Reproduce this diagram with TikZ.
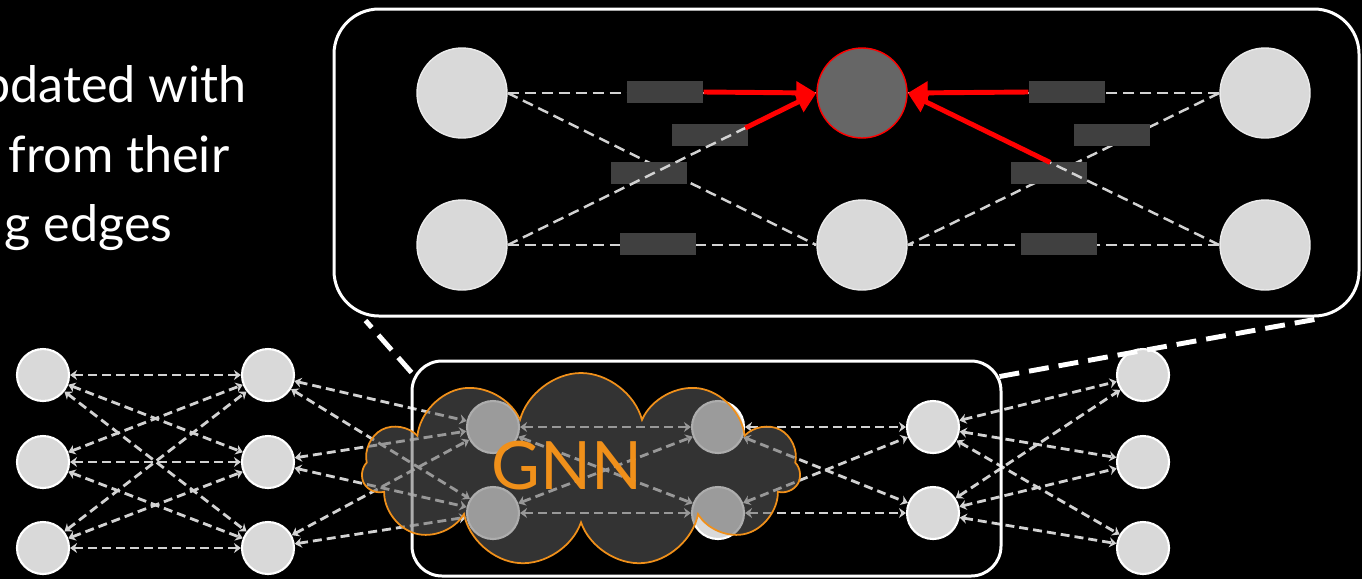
\documentclass[tikz,border=0pt]{standalone}
\usepackage{fontspec}
\setmainfont{Lato}
\usetikzlibrary{arrows.meta,shapes.symbols,calc}

\definecolor{nodegray}{HTML}{D9D9D9}
\definecolor{msggray}{HTML}{404040}
\definecolor{hubgray}{HTML}{666666}
\definecolor{cloudfill}{HTML}{636363}
\definecolor{gnnorange}{HTML}{F0901A}
\definecolor{edgegray}{HTML}{D2D2D2}

\begin{document}
\begin{tikzpicture}[
  x=0.1mm, y=-0.1mm,
  topnode/.style={circle, fill=nodegray, draw=white!92!black, line width=0.4pt,
                  minimum size=9mm, inner sep=0pt},
  hubnode/.style={topnode, fill=hubgray, draw=red},
  netnode/.style={circle, fill=nodegray, draw=white, line width=0.6pt,
                  minimum size=5.2mm, inner sep=0pt},
  msgbox/.style={rectangle, fill=msggray, minimum width=7.6mm,
                 minimum height=2.2mm, inner sep=0pt},
  topedge/.style={draw=edgegray, dash pattern=on 1.1mm off 0.6mm, line width=0.7pt},
  netedge/.style={draw=edgegray, dash pattern=on 0.9mm off 0.5mm, line width=0.8pt,
                  {Stealth[length=0.7mm,width=1mm]}-{Stealth[length=0.7mm,width=1mm]}},
  redmsg/.style={draw=red, line width=1.4pt, -{Triangle[length=2mm,width=2.2mm]}},
  zoomedge/.style={draw=white, line width=1.4pt, dash pattern=on 2mm off 1mm},
  panel/.style={rectangle, draw=white, line width=0.85pt, inner sep=0pt},
  txt/.style={text=white, font=\fontsize{14.3}{20}\selectfont, anchor=base east,
              inner sep=0pt},
]
\useasboundingbox (0,0) rectangle (1362,579);
\fill[black] (0,0) rectangle (1362,579);

% ---- left text, cut by the page edge ----
\node[txt] (t1) at (247,102) {pdated with};
\node[txt] (t2) at (230,172) {from their};
\node[txt] (t3) at (173,241) {g edges};

% ---- zoomed panel ----
\node[panel, minimum width=102.5mm, minimum height=30.7mm, rounded corners=4.5mm]
  (tbox) at (846.5,162.5) {};

\node[topnode] (l1) at (462,93) {};
\node[topnode] (l2) at (462,245) {};
\node[hubnode] (hub) at (862,93) {};
\node[topnode] (m2) at (862,245) {};
\node[topnode] (r1) at (1265,93) {};
\node[topnode] (r2) at (1265,245) {};

\coordinate (s2) at ($(l2.east)!0.77!(hub.west)$);
\coordinate (s7) at ($(r2.west)!0.543!(hub.east)$);

\foreach \a/\b in {l1.east/hub.west, l1.east/m2.west, l2.east/m2.west,
                   r1.west/hub.east, r1.west/m2.east, r2.west/m2.east}
  \draw[topedge] (\a) -- (\b);

\node[msgbox] (msg1) at (665,92) {};
\node[msgbox] (msg2) at (710,135) {};
\node[msgbox] (msg3) at (649,173) {};
\node[msgbox] (msg4) at (658,244) {};
\node[msgbox] (msg5) at (1067,92) {};
\node[msgbox] (msg6) at (1112,135) {};
\node[msgbox] (msg7) at (1049,173) {};
\node[msgbox] (msg8) at (1059,244) {};

\draw[topedge] (l2.east) -- (s2);
\draw[topedge] (r2.west) -- (s7);

% ---- messages into the updated node ----
\draw[redmsg] (msg1.east) -- (hub.west);
\draw[redmsg] (s2) -- (hub.west);
\draw[redmsg] (msg5.west) -- (hub.east);
\draw[redmsg] (s7) -- (hub.east);

% ---- network below ----
\foreach \y [count=\i] in {375,462,548} {
  \node[netnode] (a\i) at (43,\y) {};
  \node[netnode] (b\i) at (268,\y) {};
  \node[netnode] (f\i) at (1143,\y) {};
}
\foreach \y [count=\i] in {427,513} {
  \node[netnode] (c\i) at (493,\y) {};
  \node[netnode] (d\i) at (718,\y) {};
  \node[netnode] (e\i) at (933,\y) {};
}

\foreach \i in {1,2,3} \foreach \j in {1,2,3}
  \draw[netedge] (a\i) -- (b\j);
\foreach \i in {1,2,3} \foreach \j in {1,2}
  \draw[netedge] (b\i) -- (c\j);
\foreach \i in {1,2} \foreach \j in {1,2} {
  \draw[netedge] (c\i) -- (d\j);
  \draw[netedge] (d\i) -- (e\j);
}
\foreach \i in {1,2} \foreach \j in {1,2,3}
  \draw[netedge] (e\i) -- (f\j);

\node[panel, minimum width=58.9mm, minimum height=21.5mm, rounded corners=3mm]
  (gbox) at (706.5,468.5) {};

\node[cloud, cloud puffs=11, cloud ignores aspect, minimum width=43.8mm,
      minimum height=19.4mm, fill=cloudfill, fill opacity=0.52,
      draw=gnnorange, line width=0.5pt] (cl) at (581,470) {};
\node[text=gnnorange, font=\fontsize{19}{19}\selectfont, inner sep=0pt]
  (gnn) at (567,466) {GNN};

% ---- zoom lines ----
\draw[zoomedge] ($(gbox.north west)+(1,13)$) -- ($(tbox.south west)+(33,3)$);
\draw[zoomedge] ($(gbox.north east)+(-3,17)$) -- ($(tbox.south east)+(-46,2)$);

\end{tikzpicture}
\end{document}
